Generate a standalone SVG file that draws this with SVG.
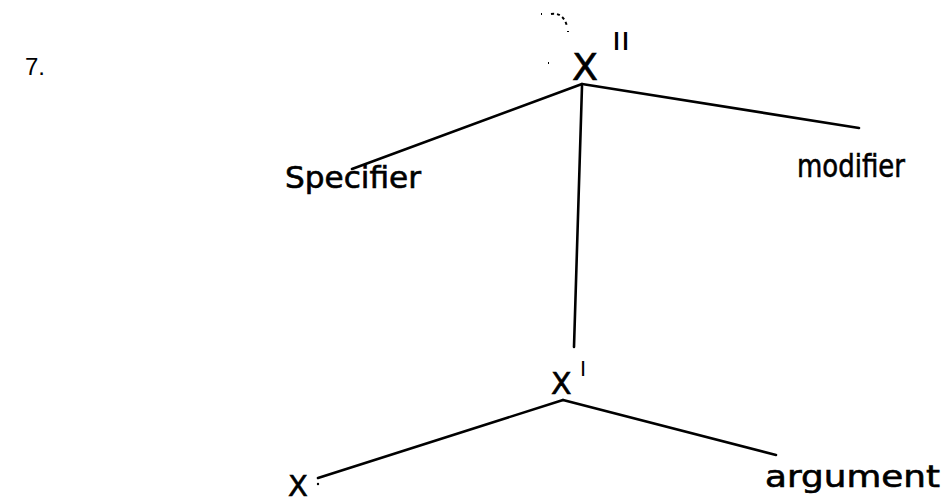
<svg xmlns="http://www.w3.org/2000/svg" width="952" height="504" viewBox="0 0 952 504">
<style>
.e{stroke:#000;stroke-width:2.6;fill:none;stroke-linecap:round}
.h{font-family:"DejaVu Sans","Liberation Sans",sans-serif;fill:#000;stroke:#000;stroke-width:0.6}
.n{font-family:"Liberation Sans",Arial,sans-serif;fill:#000}
</style>
<rect width="952" height="504" fill="#fff"/>
<text class="n" x="25" y="75" font-size="24">7.</text>
<g id="edges">
<path class="e" d="M582 84 L352 169"/>
<path class="e" d="M582 84 L859 128"/>
<path class="e" d="M582 86 L574 347"/>
<path class="e" d="M563 400 L318 478"/>
<path class="e" d="M563 400 L776 455"/>
</g>
<g id="artifact">
<path d="M541 14 l1 0 M551 14 q12 -2 16 12 M568 31 l0 1 M548 63 l1 0" stroke="#000" stroke-width="2" fill="none" stroke-dasharray="3 3"/>
</g>
<g id="xbar2">
<text class="h" x="572" y="80" font-size="38" stroke-width="1.2">X</text>
<text class="n" x="612" y="50" font-size="26" textLength="18" lengthAdjust="spacingAndGlyphs">II</text>
</g>
<g id="specifier">
<text class="h" x="285" y="188" font-size="30" textLength="136" lengthAdjust="spacingAndGlyphs">Specifier</text>
</g>
<g id="modifier">
<text class="h" x="797" y="177" font-size="32" textLength="108" lengthAdjust="spacingAndGlyphs">modifier</text>
</g>
<g id="xbar1">
<text class="h" x="551" y="394" font-size="30" stroke-width="1">X</text>
<text class="n" x="580" y="376" font-size="22">I</text>
</g>
<g id="x0">
<text class="h" x="288" y="496" font-size="29" stroke-width="1">X</text>
<circle cx="318" cy="484" r="1.2" fill="#000"/>
</g>
<g id="argument">
<text class="h" x="765" y="487" font-size="30" textLength="175" lengthAdjust="spacingAndGlyphs">argument</text>
</g>
</svg>
